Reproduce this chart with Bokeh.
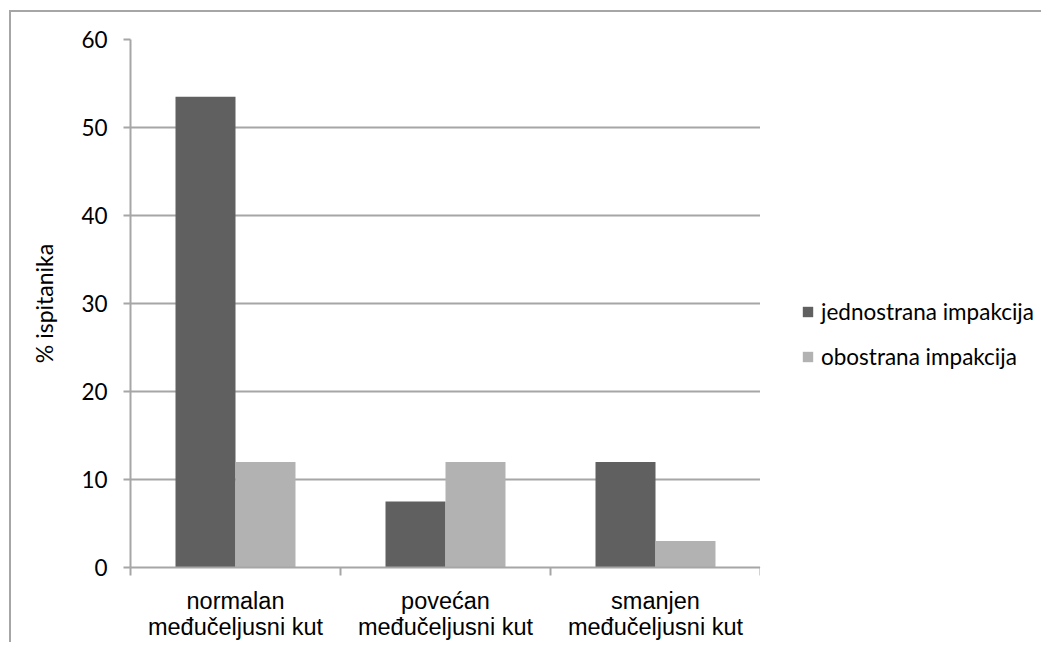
import numpy as np
from bokeh.plotting import figure
from bokeh.layouts import row
from bokeh.models import Range1d, FixedTicker, Legend, LegendItem
from bokeh.embed import file_html
from bokeh.resources import INLINE

categories = ["normalan\nmeđučeljusni kut", "povećan\nmeđučeljusni kut", "smanjen\nmeđučeljusni kut"]
series_names = ["jednostrana impakcija", "obostrana impakcija"]
jednostrana = [53.5, 7.5, 12.0]
obostrana = [12.0, 12.0, 3.0]
y_ticks = [0, 10, 20, 30, 40, 50, 60]

DARK = "#606060"
LIGHT = "#b2b2b2"
GRID = "#a6a6a6"

p = figure(width=760, height=642, output_backend="svg", toolbar_location=None,
           x_range=Range1d(0, len(categories)), y_range=Range1d(0, 60),
           min_border_left=130, min_border_right=0, min_border_top=39, min_border_bottom=72)
p.outline_line_color = None
p.background_fill_color = "white"
p.border_fill_color = None

centers = np.arange(len(categories)) + 0.5
bar_w = 0.2857
r1 = p.vbar(x=centers - bar_w / 2, top=jednostrana, width=bar_w, fill_color=DARK, line_color=None)
r2 = p.vbar(x=centers + bar_w / 2, top=obostrana, width=bar_w, fill_color=LIGHT, line_color=None)

# x axis: labels at category centres, ticks at category boundaries
xa = p.xaxis[0]
xa.ticker = FixedTicker(ticks=list(centers), minor_ticks=list(range(len(categories) + 1)))
xa.major_label_overrides = {float(c): lab for c, lab in zip(centers, categories)}
xa.major_tick_out = 0
xa.major_tick_in = 0
xa.minor_tick_out = 8
xa.minor_tick_in = 0
xa.minor_tick_line_color = GRID
xa.minor_tick_line_width = 2
xa.axis_line_color = GRID
xa.axis_line_width = 2
xa.major_label_text_font = "Liberation Sans"
xa.major_label_text_font_size = "23.5px"
xa.major_label_text_line_height = 1.0
xa.major_label_text_color = "black"
xa.major_label_standoff = 12

ya = p.yaxis[0]
ya.ticker = FixedTicker(ticks=y_ticks)
ya.major_tick_out = 7
ya.major_tick_in = 0
ya.minor_tick_line_color = None
ya.major_tick_line_color = GRID
ya.major_tick_line_width = 2
ya.axis_line_color = GRID
ya.axis_line_width = 2
ya.major_label_text_font = "Lato"
ya.major_label_text_font_size = "22.5px"
ya.major_label_text_color = "black"
ya.major_label_standoff = 16
ya.axis_label = "% ispitanika"
ya.axis_label_text_font = "Lato"
ya.axis_label_text_font_size = "23px"
ya.axis_label_text_font_style = "normal"
ya.axis_label_text_color = "black"
ya.axis_label_standoff = 20

p.xgrid.grid_line_color = None
p.ygrid.grid_line_color = GRID
p.ygrid.grid_line_width = 2
p.ygrid.ticker = FixedTicker(ticks=y_ticks)

# legend panel to the right of the plot area (legend swatches only; the
# placeholder renderers sit outside this panel's visible range)
lp = figure(width=281, height=642, output_backend="svg", toolbar_location=None,
            x_range=Range1d(0, 1), y_range=Range1d(0, 1),
            x_axis_location=None, y_axis_location=None,
            min_border_left=0, min_border_right=0, min_border_top=0, min_border_bottom=0)
lp.outline_line_color = None
lp.background_fill_color = None
lp.border_fill_color = None
lp.xgrid.visible = False
lp.ygrid.visible = False
l1 = lp.vbar(x=[-5], top=[-5], width=0.1, fill_color=DARK, line_color=None)
l2 = lp.vbar(x=[-5], top=[-5], width=0.1, fill_color=LIGHT, line_color=None)

legend = Legend(items=[LegendItem(label=series_names[0], renderers=[l1]),
                       LegendItem(label=series_names[1], renderers=[l2])],
                location=(41, 197), orientation="vertical")
legend.border_line_color = None
legend.background_fill_alpha = 0
legend.padding = 0
legend.margin = 0
legend.glyph_width = 13
legend.glyph_height = 13
legend.label_standoff = 7
legend.spacing = 18
legend.label_text_font = "Lato"
legend.label_text_font_size = "22.5px"
legend.label_text_color = "black"
lp.add_layout(legend, "center")

layout = row(p, lp)
layout.styles = {
    "background-image": "linear-gradient(#a6a6a6, #a6a6a6), linear-gradient(#a6a6a6, #a6a6a6)",
    "background-size": "2px 100%, 100% 2px",
    "background-position": "9px 10px, 9px 10px",
    "background-repeat": "no-repeat",
}

open("out.html", "w").write(file_html(layout, INLINE))
